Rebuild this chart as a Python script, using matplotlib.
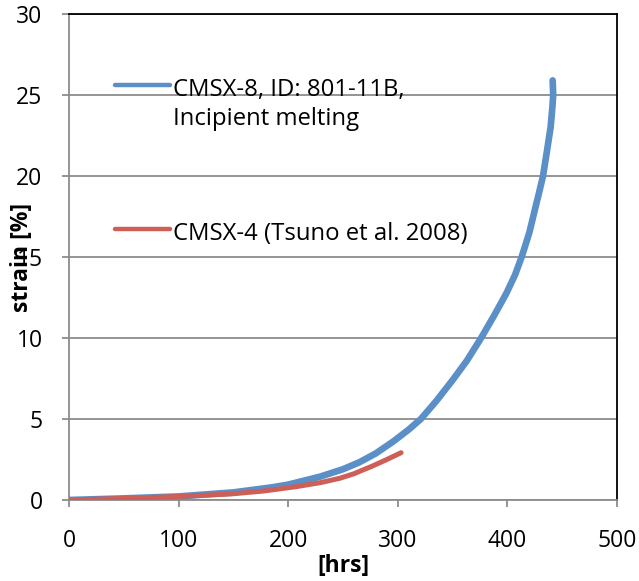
import matplotlib
matplotlib.use("Agg")
import matplotlib.pyplot as plt

# ---- data ----
cmsx8_hrs = [0, 50, 100, 150, 185, 200, 229, 250, 265, 280, 296, 310, 321, 335, 350,
             363, 376, 388, 399, 407, 413, 420, 425, 429, 432.5, 436, 439.4, 441, 441.8, 441.3]
cmsx8_strain = [0, 0.1, 0.22, 0.47, 0.78, 0.95, 1.44, 1.9, 2.33, 2.88, 3.62, 4.35, 5.0, 6.1, 7.4,
                8.6, 10.0, 11.4, 12.75, 13.9, 15.0, 16.5, 17.9, 19.0, 20.0, 21.5, 23.0, 24.2, 25.0, 25.9]
cmsx4_hrs = [0, 50, 100, 147, 177, 207, 230, 247, 260, 268, 277, 290, 303]
cmsx4_strain = [0, 0.1, 0.22, 0.37, 0.55, 0.82, 1.08, 1.34, 1.62, 1.85, 2.1, 2.5, 2.92]

labels = ["CMSX-8, ID: 801-11B,\nIncipient melting", "CMSX-4 (Tsuno et al. 2008)"]
colors = ["#5B8FC8", "#CD5F57"]
x_ticks = [0, 100, 200, 300, 400, 500]
y_ticks = [0, 5, 10, 15, 20, 25, 30]

plt.rcParams['font.family'] = ['Open Sans', 'DejaVu Sans']

W, H = 639, 581
fig = plt.figure(figsize=(W / 100, H / 100), dpi=100)
L, R, T, B = 69, 617, 14, 500
ax = fig.add_axes([L / W, 1 - B / H, (R - L) / W, (B - T) / H])

ax.plot(cmsx8_hrs, cmsx8_strain, color=colors[0], lw=4.8, solid_capstyle='round',
        solid_joinstyle='round', zorder=3)
ax.plot(cmsx4_hrs, cmsx4_strain, color=colors[1], lw=3.6, solid_capstyle='round',
        solid_joinstyle='round', zorder=4)

ax.set_xlim(0, 500)
ax.set_ylim(0, 30)
ax.set_xticks(x_ticks)
ax.set_yticks(y_ticks)
ax.yaxis.grid(True, color='#8c8c8c', lw=1.3)
ax.set_axisbelow(True)

for s in ['top', 'right']:
    ax.spines[s].set_color('black')
    ax.spines[s].set_linewidth(1.3)
for s in ['left', 'bottom']:
    ax.spines[s].set_color('#8c8c8c')
    ax.spines[s].set_linewidth(1.3)

ax.tick_params(axis='both', direction='out', length=5, width=1.3, color='#8c8c8c',
               labelsize=16.5)
ax.tick_params(axis='y', pad=14)
ax.tick_params(axis='x', pad=16)

ax.set_xlabel("[hrs]", fontsize=16.5, fontweight='bold')
ax.xaxis.set_label_coords(0.5, -0.112)
ax.set_ylabel("strain [%]", fontsize=16.5, fontweight='bold')
ax.yaxis.set_label_coords(-0.064, 0.5)

# legend (manual layout)
key_y = [0.854, 0.558]
for lab, col, ky in zip(labels, colors, key_y):
    ax.plot([0.084, 0.184], [ky, ky], transform=ax.transAxes, color=col, lw=3.2,
            solid_capstyle='round', clip_on=False)
    ax.text(0.19, ky + 0.014, lab, transform=ax.transAxes, fontsize=17.2,
            va='top', ha='left', linespacing=1.25)

fig.savefig("out.png", dpi=100)
